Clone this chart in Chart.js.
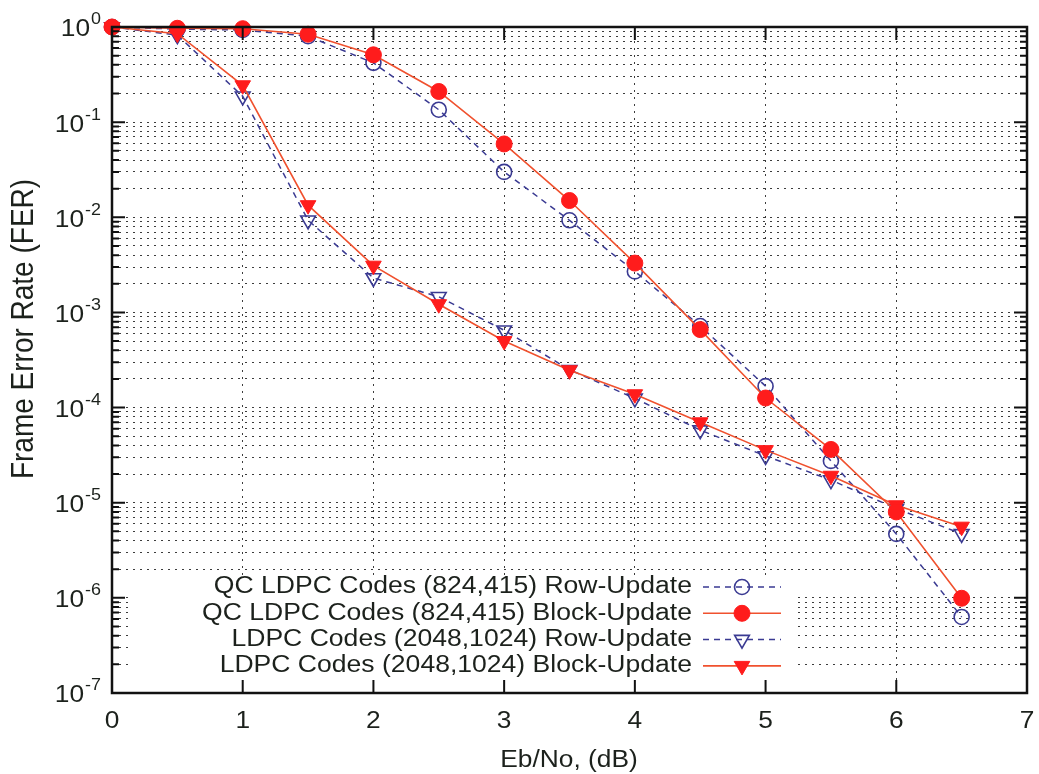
<!DOCTYPE html>
<html>
<head>
<meta charset="utf-8">
<title>FER vs Eb/No</title>
<script src="https://cdn.jsdelivr.net/npm/chart.js@4.4.1/dist/chart.umd.min.js"></script>
<style>
  html, body { margin: 0; padding: 0; background: #fff; }
  #wrap { width: 1039px; height: 774px; }
</style>
</head>
<body>
<div id="wrap"><canvas id="ferChart" width="1039" height="774"></canvas></div>
<script>
// Eb/No sweep points (dB)
const ebno = [0, 0.5, 1, 1.5, 2, 2.5, 3, 3.5, 4, 4.5, 5, 5.5, 6, 6.5];

// Frame error rate for each decoder / schedule
const qcRow     = [1.0, 0.95, 0.93, 0.80, 0.42, 0.135, 0.030, 0.0093, 0.0027, 0.00072, 0.000168, 0.0000275, 0.0000047, 0.00000063];
const qcBlock   = [1.0, 0.97, 0.96, 0.84, 0.51, 0.21, 0.059, 0.015, 0.0033, 0.00066, 0.000126, 0.0000363, 0.000008, 0.00000099];
const ldpcRow   = [1.0, 0.82, 0.187, 0.0093, 0.0023, 0.00146, 0.00065, 0.00025, 0.000125, 0.000058, 0.000031, 0.0000173, 0.0000087, 0.0000047];
const ldpcBlock = [1.0, 0.85, 0.244, 0.0134, 0.0031, 0.00122, 0.0005, 0.000247, 0.000138, 0.00007, 0.0000357, 0.0000192, 0.0000094, 0.0000056];

const seriesNames = [
    'QC LDPC Codes (824,415) Row-Update',
    'QC LDPC Codes (824,415) Block-Update',
    'LDPC Codes (2048,1024) Row-Update',
    'LDPC Codes (2048,1024) Block-Update'
];

// axis ticks
const xTicks = [0, 1, 2, 3, 4, 5, 6, 7];
const yDecades = [0, -1, -2, -3, -4, -5, -6, -7];
const yMinor = [2, 3, 4, 5, 6, 7, 8, 9];

const COLORS = {
    blue: '#3a3a92',
    red: '#ff1c1c',
    redLine: '#f0512e',
    grid: '#3c3c3c',
    text: '#1c211c'
};
const FONT = '"Liberation Sans", Arial, Helvetica, sans-serif';
const WIDEN = 1.12;   // glyphs are a little wider than plain Helvetica

function pts(ys) {
    return ebno.map((x, i) => ({ x, y: ys[i] }));
}

// text with a horizontal stretch
function wideText(ctx, str, x, y, size, align, sx) {
    ctx.save();
    ctx.font = size + 'px ' + FONT;
    ctx.textAlign = align;
    ctx.translate(x, y);
    ctx.scale(sx || WIDEN, 1);
    ctx.fillText(str, 0, 0);
    ctx.restore();
}
function textWidth(ctx, str, size) {
    ctx.save();
    ctx.font = size + 'px ' + FONT;
    const w = ctx.measureText(str).width * WIDEN;
    ctx.restore();
    return w;
}

const rowStyle = {
    borderColor: COLORS.blue,
    borderWidth: 1.5,
    borderDash: [6, 5],
    pointBorderColor: COLORS.blue,
    pointBackgroundColor: 'rgba(0,0,0,0)',
    pointBorderWidth: 1.6,
    order: 1
};
const blockStyle = {
    borderColor: COLORS.redLine,
    borderWidth: 1.6,
    pointBorderColor: COLORS.red,
    pointBackgroundColor: COLORS.red,
    pointBorderWidth: 1,
    order: 0
};

const datasets = [
    { label: seriesNames[0], data: pts(qcRow), ...rowStyle, pointStyle: 'circle', pointRadius: 7.5 },
    { label: seriesNames[1], data: pts(qcBlock), ...blockStyle, pointStyle: 'circle', pointRadius: 8 },
    { label: seriesNames[2], data: pts(ldpcRow), ...rowStyle, pointStyle: 'triangle', pointRotation: 180, pointRadius: 8.5 },
    { label: seriesNames[3], data: pts(ldpcBlock), ...blockStyle, pointStyle: 'triangle', pointRotation: 180, pointRadius: 9 }
];
datasets.forEach(d => { d.clip = false; d.tension = 0; d.fill = false; });

// --- marker helper for the key samples ---
function marker(ctx, ds, x, y) {
    const r = ds.pointRadius;
    ctx.beginPath();
    if (ds.pointStyle === 'circle') {
        ctx.arc(x, y, r, 0, Math.PI * 2);
    } else {
        const w = r * Math.sqrt(3) / 2;
        ctx.moveTo(x - w, y - r / 2);
        ctx.lineTo(x + w, y - r / 2);
        ctx.lineTo(x, y + r);
        ctx.closePath();
    }
    ctx.fillStyle = ds.pointBackgroundColor;
    ctx.fill();
    ctx.lineWidth = ds.pointBorderWidth;
    ctx.strokeStyle = ds.pointBorderColor;
    ctx.stroke();
}

// --- key box in the lower-left of the plot ---
const keyBox = {
    id: 'keyBox',
    afterDatasetsDraw(chart) {
        const { ctx } = chart;
        ctx.save();
        ctx.fillStyle = '#fff';
        ctx.fillRect(128, 576, 669, 116);
        ctx.textBaseline = 'middle';
        chart.data.datasets.forEach((ds, i) => {
            const ty = 587 + i * 26.3;
            ctx.fillStyle = COLORS.text;
            wideText(ctx, ds.label, 692, ty, 23.5, 'right', 1.13);
            ctx.beginPath();
            ctx.setLineDash(ds.borderDash || []);
            ctx.moveTo(703, ty);
            ctx.lineTo(781, ty);
            ctx.strokeStyle = ds.borderColor;
            ctx.lineWidth = ds.borderWidth;
            ctx.stroke();
            ctx.setLineDash([]);
            marker(ctx, ds, 742, ty);
        });
        ctx.restore();
    }
};

// --- frame, inward ticks, labels and axis titles ---
const frame = {
    id: 'frame',
    afterDraw(chart) {
        const { ctx, chartArea: a, scales: { x, y } } = chart;
        ctx.save();
        ctx.strokeStyle = '#111';

        // tick marks
        ctx.lineWidth = 2;
        ctx.beginPath();
        yDecades.forEach(d => {
            const py = y.getPixelForValue(Math.pow(10, d));
            ctx.moveTo(a.left, py); ctx.lineTo(a.left + 13, py);
            ctx.moveTo(a.right, py); ctx.lineTo(a.right - 13, py);
            if (d > -7) {
                yMinor.forEach(m => {
                    const pm = y.getPixelForValue(m * Math.pow(10, d - 1));
                    ctx.moveTo(a.left, pm); ctx.lineTo(a.left + 7, pm);
                    ctx.moveTo(a.right, pm); ctx.lineTo(a.right - 7, pm);
                });
            }
        });
        xTicks.forEach(v => {
            const px = x.getPixelForValue(v);
            ctx.moveTo(px, a.top); ctx.lineTo(px, a.top + 13);
            ctx.moveTo(px, a.bottom); ctx.lineTo(px, a.bottom - 13);
        });
        ctx.stroke();

        // border
        ctx.lineWidth = 2.5;
        ctx.strokeRect(a.left, a.top, a.right - a.left, a.bottom - a.top);

        // y labels 10^n
        ctx.fillStyle = COLORS.text;
        ctx.textBaseline = 'middle';
        yDecades.forEach(d => {
            const py = y.getPixelForValue(Math.pow(10, d));
            const sup = String(d);
            const right = a.left - 11;
            const sw = textWidth(ctx, sup, 16);
            wideText(ctx, '10', right - sw - 1, py + 3, 23.5, 'right');
            wideText(ctx, sup, right - sw, py - 7, 16, 'left');
        });

        // x labels
        xTicks.forEach(v => {
            wideText(ctx, String(v), x.getPixelForValue(v), a.bottom + 29, 23.5, 'center');
        });

        // axis titles
        wideText(ctx, 'Eb/No, (dB)', 569, a.bottom + 68, 23.5, 'center');
        ctx.translate(24, 329);
        ctx.rotate(-Math.PI / 2);
        ctx.font = '28px ' + FONT;
        ctx.textAlign = 'center';
        ctx.scale(1, WIDEN);
        ctx.fillText('Frame Error Rate (FER)', 0, 0);
        ctx.restore();
    }
};

new Chart(document.getElementById('ferChart'), {
    type: 'line',
    data: { datasets },
    options: {
        responsive: false,
        animation: false,
        events: [],
        layout: { padding: { top: 27, right: 12, left: 0, bottom: 0 } },
        plugins: {
            legend: { display: false },
            tooltip: { enabled: false }
        },
        scales: {
            x: {
                type: 'linear',
                min: 0,
                max: 7,
                ticks: { display: false, stepSize: 1 },
                grid: { color: COLORS.grid, lineWidth: 1, drawTicks: false },
                border: { display: false, dash: [2, 5] },
                afterFit: s => { s.height = 81; }
            },
            y: {
                type: 'logarithmic',
                min: 1e-7,
                max: 1,
                ticks: { display: false },
                grid: { color: COLORS.grid, lineWidth: 1, drawTicks: false },
                border: { display: false, dash: [2, 5] },
                afterBuildTicks: s => {
                    const vals = [];
                    yDecades.forEach(d => {
                        vals.push(Math.pow(10, d));
                        if (d > -7) yMinor.forEach(m => vals.push(m * Math.pow(10, d - 1)));
                    });
                    s.ticks = vals.map(v => ({ value: v }));
                },
                afterFit: s => { s.width = 112; }
            }
        }
    },
    plugins: [keyBox, frame]
});
</script>
</body>
</html>
